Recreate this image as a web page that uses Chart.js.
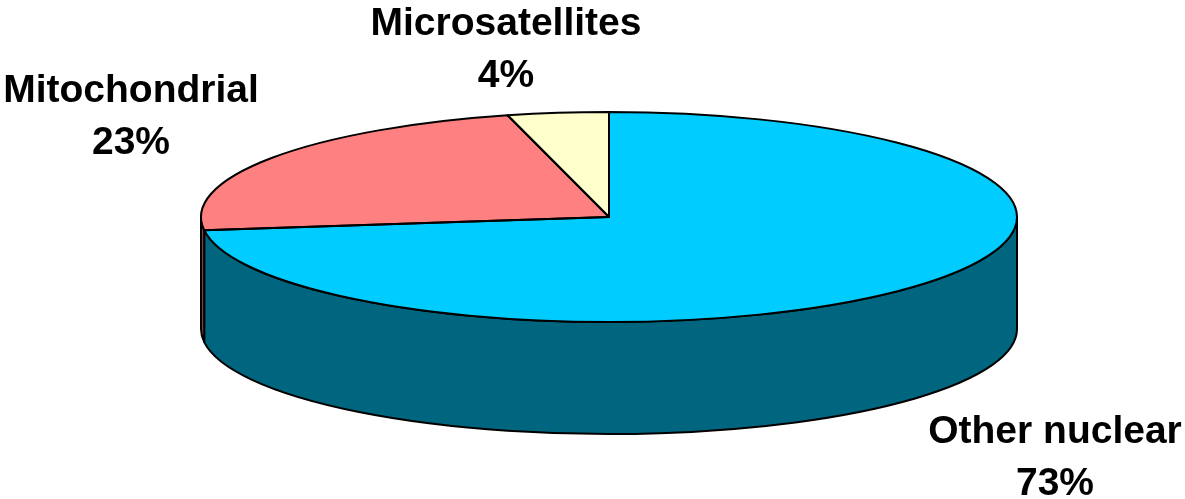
<!DOCTYPE html>
<html lang="en">
<head>
    <meta charset="UTF-8">
    <title>Marker types</title>
    <script src="https://cdn.jsdelivr.net/npm/chart.js@4.4.0/dist/chart.umd.min.js"></script>
    <style>
        body { margin: 0; background: #fff; }
    </style>
</head>
<body>
    <canvas id="myChart" width="1185" height="499"></canvas>

    <script>
        const categories = ['Other nuclear', 'Mitochondrial', 'Microsatellites'];
        const shares = [73, 23, 4];
        const topColors = ['#00CCFF', '#FF8080', '#FFFFCC'];
        const sideColors = ['#006680', '#804040', '#808066'];

        // tilted disc: where the top ellipse sits and how thick the side is
        const disc = { cx: 609, cy: 217, rx: 408, ry: 105, depth: 112 };
        // baseline of the first label line for each slice
        const labelSpots = [[1055, 443], [131, 102], [506, 35]];

        function arcAngles(chart) {
            return chart.getDatasetMeta(0).data.map(a => a.getProps(['startAngle', 'endAngle', 'x', 'y', 'outerRadius'], true));
        }

        const pie3d = {
            id: 'pie3d',
            beforeDatasetsDraw(chart) {
                const ctx = chart.ctx;
                const arcs = arcAngles(chart);
                const { cx, cy, rx, ry, depth } = disc;

                // side wall, only the front half (0..PI) shows
                ctx.save();
                ctx.lineWidth = 2;
                ctx.strokeStyle = '#000';
                ctx.lineJoin = 'round';
                arcs.forEach((a, i) => {
                    const s = Math.max(a.startAngle, 0);
                    const e = Math.min(a.endAngle, Math.PI);
                    if (e <= s) return;
                    ctx.beginPath();
                    ctx.ellipse(cx, cy, rx, ry, 0, s, e, false);
                    ctx.lineTo(cx + rx * Math.cos(e), cy + depth + ry * Math.sin(e));
                    ctx.ellipse(cx, cy + depth, rx, ry, 0, e, s, true);
                    ctx.closePath();
                    ctx.fillStyle = sideColors[i];
                    ctx.fill();
                    ctx.stroke();
                });
                ctx.restore();

                // squash the round pie onto the top ellipse
                const a0 = arcs[0];
                ctx.save();
                ctx.translate(cx, cy);
                ctx.scale(rx / a0.outerRadius, ry / a0.outerRadius);
                ctx.translate(-a0.x, -a0.y);
            },
            afterDatasetsDraw(chart) {
                const ctx = chart.ctx;
                ctx.restore();
                const { cx, cy, rx, ry } = disc;
                ctx.save();
                ctx.lineWidth = 2;
                ctx.strokeStyle = '#000';
                ctx.lineJoin = 'round';
                arcAngles(chart).forEach(a => {
                    ctx.beginPath();
                    ctx.moveTo(cx, cy);
                    ctx.ellipse(cx, cy, rx, ry, 0, a.startAngle, a.endAngle, false);
                    ctx.closePath();
                    ctx.stroke();
                });
                ctx.restore();
            },
            afterDraw(chart) {
                const ctx = chart.ctx;
                const total = shares.reduce((s, v) => s + v, 0);
                ctx.save();
                ctx.fillStyle = '#000';
                ctx.font = 'bold 39px "Liberation Sans", Arial, sans-serif';
                ctx.textAlign = 'center';
                ctx.textBaseline = 'alphabetic';
                categories.forEach((name, i) => {
                    const [x, y] = labelSpots[i];
                    ctx.fillText(name, x, y);
                    ctx.fillText(Math.round(shares[i] / total * 100) + '%', x, y + 52);
                });
                ctx.restore();
            }
        };

        const ctx = document.getElementById('myChart').getContext('2d');
        const myChart = new Chart(ctx, {
            type: 'pie',
            data: {
                labels: categories,
                datasets: [{
                    data: shares,
                    backgroundColor: topColors,
                    borderWidth: 0,
                    clip: false
                }]
            },
            options: {
                responsive: false,
                animation: false,
                layout: { padding: 0 },
                plugins: {
                    legend: { display: false },
                    tooltip: { enabled: false }
                }
            },
            plugins: [pie3d]
        });
    </script>
</body>
</html>
